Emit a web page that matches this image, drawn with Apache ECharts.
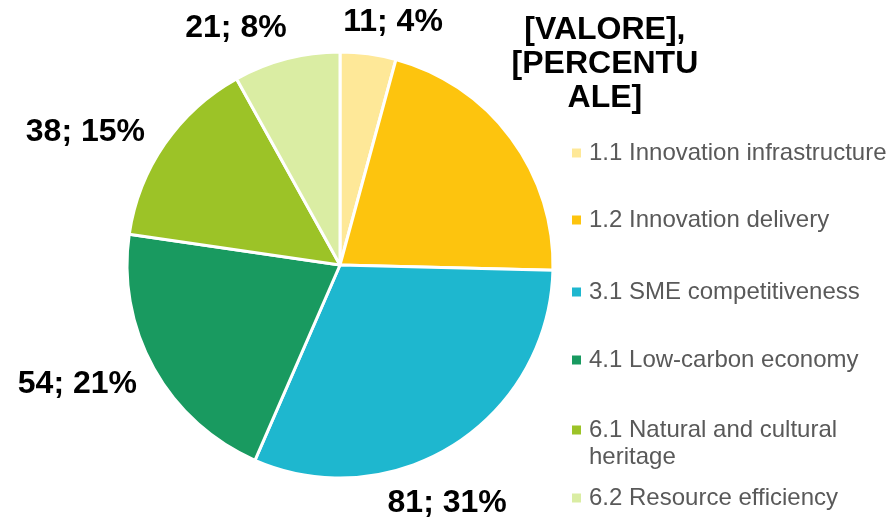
<!DOCTYPE html>
<html>
<head>
  <meta charset="utf-8" />
  <title>pie</title>
  <style>
    html, body { margin: 0; padding: 0; background: #fff; }
    #main { width: 887px; height: 523px; }
  </style>
</head>
<body>
  <div id="main"></div>
  <script src="https://cdn.jsdelivr.net/npm/echarts@6/dist/echarts.min.js"></script>
  <script>
    var categories = ['1.1 Innovation infrastructure', '1.2 Innovation delivery', '3.1 SME competitiveness',
                      '4.1 Low-carbon economy', '6.1 Natural and cultural heritage', '6.2 Resource efficiency'];
    var values = [11, 55, 81, 54, 38, 21];
    var colors = ['#fee898', '#fdc40e', '#1eb7cf', '#199a60', '#9cc327', '#daeda3'];
    // label that was left as a template in the original
    var placeholderLabel = '[VALORE],\n[PERCENTU\nALE]';

    var cx = 340, cy = 265, pieR = 213, labelGap = 15;
    // small turns (degrees) of each label around the pie, to dodge the legend like the original
    var labelAngleNudge = [-6.8, -4.5, 20.5, 2, -3.4, 1];
    var legendCenters = [151, 218, 290, 358, 441.5, 496];

    var chart = echarts.init(document.getElementById('main'));

    var total = 0;
    for (var k = 0; k < values.length; k++) total += values[k];

    var pieData = [];
    for (var i = 0; i < categories.length; i++) {
      var item = { name: categories[i], value: values[i], itemStyle: { color: colors[i] } };
      if (i === 1) item.label = { lineHeight: 34 };
      pieData.push(item);
    }

    // one legend per item so that spacing follows the original
    var legends = [];
    for (var j = 0; j < categories.length; j++) {
      var twoLine = categories[j] == '6.1 Natural and cultural heritage';
      legends.push({
        data: [categories[j]],
        left: 572,
        top: legendCenters[j] - (twoLine ? 25 : 11.5),
        padding: 0,
        // marker sits on the first line of the wrapped item
        icon: twoLine ? 'path://M0,0h9v9h-9zM0,36h0.01v0.01h-0.01z' : 'rect',
        itemWidth: 9,
        itemHeight: twoLine ? 36 : 9,
        itemGap: 0,
        selectedMode: false,
        itemStyle: { borderWidth: 0 },
        formatter: function (name) {
          return name == '6.1 Natural and cultural heritage' ? '6.1 Natural and cultural\nheritage' : name;
        },
        textStyle: {
          fontFamily: 'Liberation Sans, Arial',
          fontSize: 24,
          color: '#595959',
          lineHeight: 27,
          padding: [0, 0, 0, 3]
        }
      });
    }

    var option = {
      animation: false,
      legend: legends,
      series: [{
        type: 'pie',
        center: [cx, cy],
        radius: pieR,
        startAngle: 90,
        clockwise: true,
        percentPrecision: 0,
        itemStyle: { borderColor: '#fff', borderWidth: 3 },
        label: {
          show: true,
          position: 'outside',
          fontFamily: 'Liberation Sans, Arial',
          fontSize: 32,
          fontWeight: 'bold',
          color: '#000',
          lineHeight: 30,
          align: 'center',
          formatter: function (p) {
            if (p.dataIndex === 1) return placeholderLabel;
            return p.value + '; ' + Math.round(p.percent) + '%';
          }
        },
        labelLine: { show: false, length: 12, length2: 0 },
        // the label corner nearest the pie sits just outside the slice's mid angle
        labelLayout: function (p) {
          var idx = p.dataIndex, before = 0;
          for (var n = 0; n < idx; n++) before += values[n];
          var mid = (before + values[idx] / 2) / total * Math.PI * 2 + labelAngleNudge[idx] * Math.PI / 180;
          var dx = Math.sin(mid), dy = -Math.cos(mid);
          var r = pieR + labelGap;
          var x = cx + dx * r, y = cy + dy * r;
          var vAlign = dy <= 0 ? 'bottom' : 'top';
          if (idx === 1) {
            // wrapped label: keep the lines centred over each other
            return { x: x + p.labelRect.width / 2, y: y, align: 'center', verticalAlign: vAlign };
          }
          return { x: x, y: y, align: dx >= 0 ? 'left' : 'right', verticalAlign: vAlign };
        },
        emphasis: { disabled: true },
        data: pieData
      }]
    };
    chart.setOption(option);
  </script>
</body>
</html>
